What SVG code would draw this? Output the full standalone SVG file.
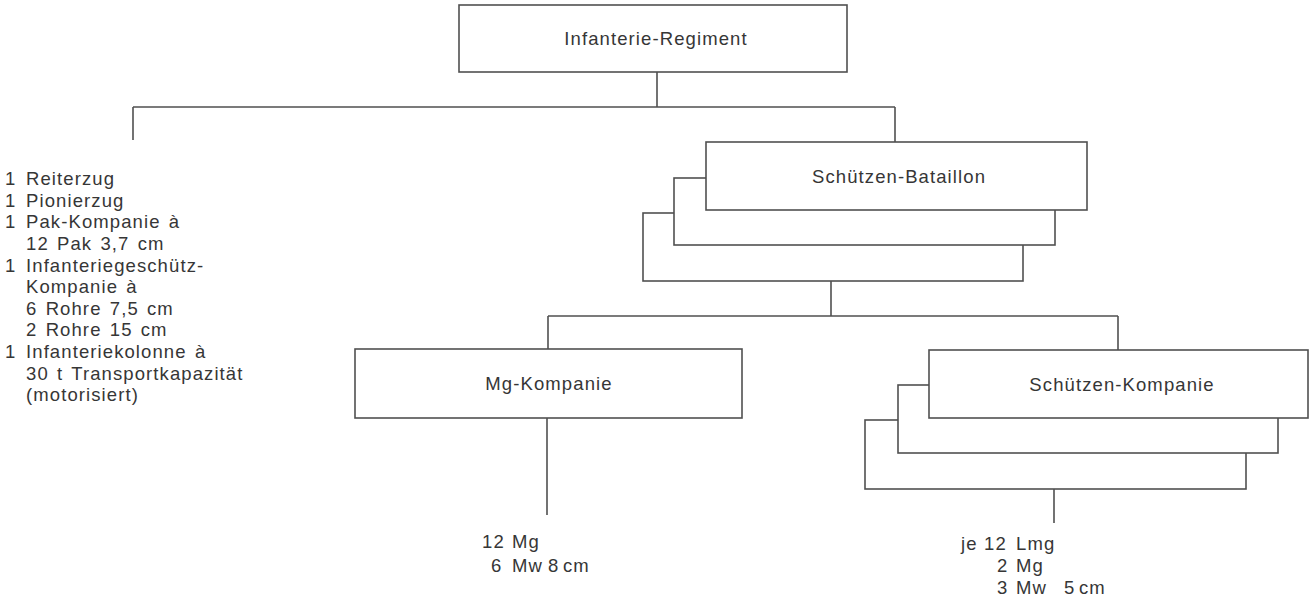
<svg xmlns="http://www.w3.org/2000/svg" width="1309" height="603" viewBox="0 0 1309 603">
<style>
.b{fill:#fff;stroke:#505050;stroke-width:1.6}
.c{fill:none;stroke:#505050;stroke-width:1.6}
text{font-family:"Liberation Sans",Arial,sans-serif;font-size:18.5px;fill:#363636;letter-spacing:1.1px;word-spacing:2px}
.m{text-anchor:middle}
</style>
<rect width="1309" height="603" fill="#fff"/>
<g id="connectors">
<path class="c" d="M657 72V107M133 107H895M133 107V140M895 107V142"/>
<path class="c" d="M831 281V316M548 316H1118M548 316V349M1118 316V350"/>
<path class="c" d="M547 418V515M1054 489V523"/>
</g>
<g id="regiment">
<rect class="b" x="459" y="5" width="388" height="67"/>
<text class="m" x="656" y="45">Infanterie-Regiment</text>
</g>
<g id="regiment-units">
<text y="185"><tspan x="5">1</tspan><tspan x="26">Reiterzug</tspan></text>
<text y="207"><tspan x="5">1</tspan><tspan x="26">Pionierzug</tspan></text>
<text y="228"><tspan x="5">1</tspan><tspan x="26">Pak-Kompanie à</tspan></text>
<text x="26" y="250">12 Pak 3,7 cm</text>
<text y="272"><tspan x="5">1</tspan><tspan x="26">Infanteriegeschütz-</tspan></text>
<text x="26" y="293">Kompanie à</text>
<text x="26" y="315">6 Rohre 7,5 cm</text>
<text x="26" y="336">2 Rohre 15 cm</text>
<text y="358"><tspan x="5">1</tspan><tspan x="26">Infanteriekolonne à</tspan></text>
<text x="26" y="380">30 t Transportkapazität</text>
<text x="26" y="401">(motorisiert)</text>
</g>
<g id="bataillon">
<rect class="b" x="643" y="213" width="380" height="68"/>
<rect class="b" x="674" y="178" width="381" height="67"/>
<rect class="b" x="706" y="142" width="381" height="68"/>
<text class="m" x="899" y="183">Schützen-Bataillon</text>
</g>
<g id="mg-kompanie">
<rect class="b" x="355" y="349" width="387" height="69"/>
<text class="m" x="549" y="390">Mg-Kompanie</text>
</g>
<g id="mg-equipment">
<text y="548"><tspan x="482">12</tspan><tspan x="512">Mg</tspan></text>
<text y="572"><tspan x="491">6</tspan><tspan x="512">Mw</tspan><tspan x="548">8</tspan><tspan x="563">cm</tspan></text>
</g>
<g id="schuetzen-kompanie">
<rect class="b" x="865" y="420" width="381" height="69"/>
<rect class="b" x="898" y="385" width="380" height="68"/>
<rect class="b" x="929" y="350" width="379" height="68"/>
<text class="m" x="1122" y="391">Schützen-Kompanie</text>
</g>
<g id="sk-equipment">
<text y="550"><tspan x="961">je</tspan><tspan x="984">12</tspan><tspan x="1016">Lmg</tspan></text>
<text y="572"><tspan x="997">2</tspan><tspan x="1016">Mg</tspan></text>
<text y="594"><tspan x="997">3</tspan><tspan x="1016">Mw</tspan><tspan x="1064">5</tspan><tspan x="1079">cm</tspan></text>
</g>
</svg>
